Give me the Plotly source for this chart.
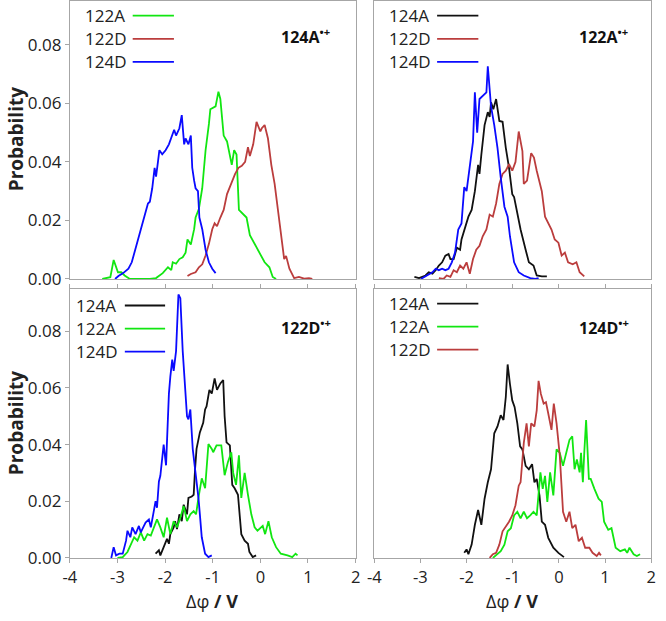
import plotly.graph_objects as go

# ---------------- data ----------------
# Panel "124A•+" (top-left)
tl_122A_x = [-3.32,-3.25,-3.15,-3.08,-2.99,-2.92,-2.85,-2.74,-2.32,-2.19,-2.05,-1.94,-1.87,-1.84,-1.77,-1.70,-1.63,-1.57,-1.53,-1.46,-1.39,-1.36,-1.29,-1.22,-1.15,-1.08,-1.05,-0.94,-0.88,-0.84,-0.77,-0.70,-0.63,-0.60,-0.55,-0.50,-0.45,-0.39,-0.29,-0.22,-0.12,0.00,0.09,0.19,0.26,0.33]
tl_122A_y = [0,0.0003,0.0006,0.0065,0.0023,0.0023,0.0012,0,0,0.0003,0.002,0.004,0.003,0.0057,0.0052,0.0068,0.0074,0.009,0.0135,0.0118,0.017,0.021,0.024,0.031,0.044,0.053,0.058,0.059,0.064,0.0615,0.049,0.047,0.041,0.039,0.044,0.0425,0.0236,0.0225,0.021,0.015,0.012,0.0085,0.0057,0.004,0.0007,0]
tl_122D_x = [-1.53,-1.46,-1.36,-1.29,-1.22,-1.15,-1.08,-1.01,-0.96,-0.91,-0.84,-0.77,-0.70,-0.63,-0.53,-0.46,-0.39,-0.32,-0.26,-0.22,-0.15,-0.08,0.00,0.03,0.09,0.16,0.23,0.30,0.37,0.43,0.50,0.54,0.61,0.71,0.81,0.92,1.02,1.09]
tl_122D_y = [0.001,0.0017,0.0023,0.004,0.005,0.008,0.012,0.017,0.019,0.018,0.021,0.0236,0.029,0.032,0.0359,0.038,0.0387,0.040,0.045,0.042,0.046,0.0537,0.0504,0.0515,0.0526,0.048,0.039,0.0325,0.0236,0.0169,0.0068,0.0079,0.0035,0.0003,0.0007,0.0001,0.0003,0]
tl_124D_x = [-3.05,-2.98,-2.88,-2.77,-2.70,-2.63,-2.57,-2.50,-2.43,-2.36,-2.32,-2.27,-2.22,-2.19,-2.15,-2.12,-2.06,-1.99,-1.92,-1.86,-1.81,-1.77,-1.70,-1.65,-1.60,-1.57,-1.51,-1.46,-1.43,-1.39,-1.36,-1.31,-1.28,-1.22,-1.15,-1.08,-1.01,-0.94]
tl_124D_y = [0,0.001,0.002,0.0035,0.0057,0.010,0.0135,0.018,0.0213,0.0258,0.0264,0.031,0.038,0.035,0.040,0.044,0.0426,0.044,0.046,0.049,0.051,0.049,0.0515,0.056,0.046,0.048,0.046,0.049,0.038,0.0336,0.031,0.030,0.021,0.017,0.010,0.0057,0.0035,0.002]

# Panel "122A•+" (top-right)
tr_124A_x = [-3.13,-3.03,-2.89,-2.82,-2.74,-2.67,-2.60,-2.53,-2.46,-2.39,-2.35,-2.28,-2.21,-2.14,-2.11,-2.04,-1.96,-1.89,-1.82,-1.75,-1.72,-1.68,-1.65,-1.61,-1.54,-1.50,-1.47,-1.42,-1.36,-1.33,-1.29,-1.22,-1.15,-1.08,-1.01,-0.97,-0.90,-0.83,-0.72,-0.65,-0.55,-0.48,-0.37,-0.26]
tr_124A_y = [0.0007,0.0003,0.0012,0.0023,0.0018,0.003,0.0046,0.0057,0.008,0.0085,0.0068,0.0068,0.0107,0.010,0.0135,0.0169,0.0213,0.0236,0.030,0.039,0.0359,0.0425,0.046,0.0526,0.057,0.0554,0.0604,0.058,0.0615,0.058,0.054,0.0537,0.0448,0.038,0.029,0.028,0.0225,0.0169,0.010,0.0057,0.0046,0.0012,0.0009,0.0009]
tr_122D_x = [-2.60,-2.50,-2.43,-2.35,-2.28,-2.21,-2.14,-2.07,-2.00,-1.93,-1.86,-1.79,-1.72,-1.65,-1.57,-1.50,-1.43,-1.36,-1.29,-1.22,-1.15,-1.08,-1.01,-0.94,-0.87,-0.79,-0.76,-0.69,-0.60,-0.54,-0.48,-0.37,-0.30,-0.23,-0.16,-0.09,-0.01,0.06,0.13,0.20,0.30,0.38,0.45,0.55]
tr_122D_y = [0.0003,0,0.0012,0.0007,0.003,0.0023,0.0046,0.0035,0.0057,0.0018,0.0068,0.010,0.0113,0.0146,0.0169,0.022,0.0213,0.0258,0.0325,0.0359,0.037,0.0392,0.037,0.040,0.0504,0.0437,0.0325,0.0336,0.043,0.0415,0.037,0.030,0.0213,0.019,0.0169,0.0135,0.0124,0.008,0.009,0.0057,0.005,0.0057,0.0023,0.0009]
tr_124D_x = [-2.99,-2.85,-2.74,-2.67,-2.60,-2.53,-2.46,-2.39,-2.32,-2.25,-2.18,-2.11,-2.05,-2.00,-1.93,-1.86,-1.82,-1.77,-1.72,-1.65,-1.57,-1.54,-1.50,-1.47,-1.40,-1.33,-1.26,-1.18,-1.11,-1.06,-0.97,-0.87,-0.76,-0.62,-0.51,-0.44]
tr_124D_y = [0,0.0012,0.0023,0.0035,0.003,0.0035,0.003,0.0035,0.0057,0.009,0.0169,0.019,0.0314,0.030,0.039,0.047,0.0638,0.050,0.0615,0.0627,0.0638,0.0727,0.065,0.059,0.0526,0.0448,0.0347,0.0247,0.0213,0.0146,0.0057,0.0023,0.0012,0.0003,0,0.0003]

# Panel "122D•+" (bottom-left)
bl_124A_x = [-2.20,-2.13,-2.10,-2.03,-1.96,-1.92,-1.89,-1.82,-1.79,-1.75,-1.70,-1.65,-1.61,-1.54,-1.51,-1.44,-1.40,-1.37,-1.34,-1.27,-1.20,-1.16,-1.13,-1.07,-1.02,-0.96,-0.91,-0.84,-0.78,-0.75,-0.71,-0.64,-0.59,-0.54,-0.47,-0.40,-0.33,-0.26,-0.23,-0.16,-0.09]
bl_124A_y = [0.0015,0.0027,0.0009,0.0038,0.0067,0.005,0.0084,0.0108,0.013,0.0102,0.0154,0.013,0.0188,0.0154,0.0212,0.0217,0.0223,0.0316,0.0385,0.0443,0.0477,0.0524,0.0535,0.0593,0.058,0.0634,0.0593,0.0616,0.0628,0.050,0.0408,0.0397,0.0258,0.0246,0.0223,0.0084,0.0061,0.005,0.0021,0.0003,0.0009]
bl_122A_x = [-3.00,-2.89,-2.79,-2.72,-2.65,-2.58,-2.51,-2.44,-2.37,-2.30,-2.24,-2.17,-2.10,-2.03,-1.96,-1.89,-1.82,-1.75,-1.68,-1.61,-1.54,-1.47,-1.40,-1.35,-1.30,-1.23,-1.16,-1.09,-1.02,-0.99,-0.92,-0.82,-0.75,-0.68,-0.61,-0.57,-0.51,-0.45,-0.40,-0.33,-0.26,-0.19,-0.12,-0.06,0.05,0.10,0.17,0.24,0.33,0.43,0.57,0.67,0.74,0.78]
bl_122A_y = [0,0.0003,0.0021,0.005,0.0073,0.0061,0.009,0.0061,0.0084,0.0079,0.0108,0.0136,0.0108,0.0073,0.0142,0.0084,0.013,0.0108,0.0142,0.0183,0.013,0.0154,0.0165,0.0154,0.0212,0.0281,0.0246,0.0402,0.0385,0.0373,0.0397,0.0397,0.0292,0.0339,0.0373,0.030,0.0258,0.0362,0.0212,0.030,0.0223,0.0154,0.0108,0.0096,0.0113,0.0084,0.013,0.0073,0.0038,0.0015,0.0009,0.0003,0.0015,0.0009]
bl_124D_x = [-3.13,-3.08,-3.03,-2.96,-2.89,-2.82,-2.79,-2.73,-2.69,-2.62,-2.55,-2.51,-2.46,-2.41,-2.34,-2.30,-2.25,-2.20,-2.17,-2.13,-2.10,-2.03,-1.98,-1.92,-1.89,-1.85,-1.82,-1.77,-1.72,-1.68,-1.63,-1.58,-1.54,-1.51,-1.47,-1.42,-1.37,-1.30,-1.27,-1.23,-1.16,-1.09,-1.02]
bl_124D_y = [0,0.0038,0.0009,0.0015,0.0015,0.0061,0.0096,0.0073,0.0108,0.0084,0.0113,0.009,0.0108,0.0125,0.0136,0.0108,0.0154,0.020,0.0177,0.027,0.029,0.040,0.0327,0.058,0.064,0.070,0.066,0.073,0.093,0.0917,0.073,0.0616,0.050,0.0489,0.0524,0.0385,0.0316,0.0212,0.0154,0.0073,0.0015,0.0003,0.0009]

# Panel "124D•+" (bottom-right)
br_124A_x = [-2.05,-2.00,-1.96,-1.89,-1.82,-1.75,-1.68,-1.61,-1.54,-1.47,-1.40,-1.33,-1.26,-1.20,-1.15,-1.11,-1.06,-1.01,-0.96,-0.90,-0.84,-0.79,-0.72,-0.65,-0.58,-0.53,-0.48,-0.42,-0.37,-0.30,-0.23,-0.12,-0.01,0.11]
br_124A_y = [0.0018,0.003,0.0013,0.0047,0.0117,0.0169,0.0117,0.0209,0.0267,0.0313,0.044,0.0464,0.0504,0.0487,0.0568,0.0683,0.0614,0.0556,0.0533,0.0475,0.0394,0.0383,0.0325,0.0313,0.0331,0.0267,0.0279,0.0221,0.0128,0.0117,0.0071,0.0036,0.0018,0.0003]
br_122A_x = [-1.43,-1.33,-1.26,-1.18,-1.11,-1.04,-0.97,-0.90,-0.83,-0.76,-0.69,-0.62,-0.55,-0.48,-0.40,-0.35,-0.30,-0.25,-0.19,-0.12,-0.05,0.02,0.09,0.16,0.23,0.29,0.34,0.39,0.45,0.48,0.52,0.55,0.59,0.65,0.69,0.77,0.86,0.93,0.98,1.07,1.14,1.23,1.33,1.43,1.48,1.53,1.62,1.69,1.76]
br_122A_y = [0,0.0013,0.0024,0.0047,0.0094,0.0105,0.015,0.0163,0.014,0.0163,0.014,0.015,0.0163,0.015,0.0302,0.0244,0.029,0.0198,0.0302,0.0221,0.0383,0.0371,0.0325,0.0371,0.0417,0.0429,0.0313,0.0348,0.0302,0.0371,0.0267,0.0371,0.0487,0.0279,0.0279,0.0244,0.0209,0.0198,0.0128,0.0099,0.0105,0.0036,0.0024,0.003,0.0018,0.0036,0.0013,0.0007,0.0013]
br_122D_x = [-1.50,-1.43,-1.36,-1.29,-1.22,-1.15,-1.08,-1.01,-0.94,-0.87,-0.83,-0.76,-0.70,-0.65,-0.60,-0.53,-0.48,-0.44,-0.39,-0.33,-0.28,-0.23,-0.16,-0.11,-0.05,0.02,0.09,0.16,0.23,0.29,0.36,0.43,0.50,0.57,0.66,0.73,0.82,0.87,0.91]
br_122D_y = [0,0.0013,0.0018,0.0047,0.0094,0.011,0.0128,0.015,0.0186,0.0255,0.0267,0.0406,0.0475,0.0394,0.0475,0.0464,0.0521,0.0625,0.0579,0.0545,0.055,0.051,0.0452,0.0545,0.0475,0.036,0.0163,0.0128,0.0163,0.0105,0.0117,0.0059,0.0071,0.0036,0.0036,0.0018,0.0007,0.0018,0.0009]

panel_titles = ["124A", "122A", "122D", "124D"]
x_ticks = [-4, -3, -2, -1, 0, 1, 2]
x_ticklabels = ["-4", "-3", "-2", "-1", "0", "1", "2"]
y_ticks = [0, 0.02, 0.04, 0.06, 0.08]
y_ticklabels = ["0.00", "0.02", "0.04", "0.06", "0.08"]

# ---------------- style ----------------
W, H = 666, 621
GREEN, RED, BLUE, BLACK = "#11e611", "#bb3d3d", "#0a0aff", "#111111"
FRAME = "#a6a6a6"
FONT = "Open Sans"
LW = 1.8

def px(x):
    return x / W

def py(y):
    return 1 - y / H

# panel pixel boxes (left, right, top, bottom)
boxes = {
    1: (64, 355, 1, 284),
    2: (374, 656, 1, 284),
    3: (64, 355, 294, 568),
    4: (374, 656, 294, 568),
}

panels = {
    1: [("122A", tl_122A_x, tl_122A_y, GREEN), ("122D", tl_122D_x, tl_122D_y, RED), ("124D", tl_124D_x, tl_124D_y, BLUE)],
    2: [("124A", tr_124A_x, tr_124A_y, BLACK), ("122D", tr_122D_x, tr_122D_y, RED), ("124D", tr_124D_x, tr_124D_y, BLUE)],
    3: [("124A", bl_124A_x, bl_124A_y, BLACK), ("122A", bl_122A_x, bl_122A_y, GREEN), ("124D", bl_124D_x, bl_124D_y, BLUE)],
    4: [("124A", br_124A_x, br_124A_y, BLACK), ("122A", br_122A_x, br_122A_y, GREEN), ("122D", br_122D_x, br_122D_y, RED)],
}

fig = go.Figure()
annotations = []
shapes = []

for k in (1, 2, 3, 4):
    sfx = "" if k == 1 else str(k)
    for name, xs, ys, col in panels[k]:
        fig.add_trace(go.Scatter(x=xs, y=ys, mode="lines", name=name,
                                 line=dict(color=col, width=LW),
                                 xaxis="x" + sfx, yaxis="y" + sfx, showlegend=False))
    l, r, t, b = boxes[k]
    bottom_row = k in (3, 4)
    left_col = k in (1, 3)
    fig.layout["xaxis" + sfx] = dict(
        domain=[px(l), px(r)], anchor="y" + sfx, range=[-4, 2],
        showline=True, linecolor=FRAME, linewidth=1, mirror="allticks" if bottom_row else True,
        showgrid=False, zeroline=False,
        tickvals=x_ticks, ticktext=x_ticklabels,
        showticklabels=bottom_row, ticks="outside" if bottom_row else "",
        ticklen=4, tickcolor=FRAME,
        tickfont=dict(family=FONT, size=16.5, color="#222"),
    )
    fig.layout["yaxis" + sfx] = dict(
        domain=[py(b), py(t)], anchor="x" + sfx, range=[0, 0.095],
        showline=True, linecolor=FRAME, linewidth=1, mirror=True,
        showgrid=False, zeroline=False,
        tickvals=y_ticks, ticktext=y_ticklabels,
        showticklabels=left_col, ticks="outside" if left_col else "",
        ticklen=4, tickcolor=FRAME,
        tickfont=dict(family=FONT, size=17, color="#222"),
    )

    # legend (text then line sample)
    if k == 1:
        lx, ly0, s0, s1 = 77, 16, 128, 170
    elif k == 2:
        lx, ly0, s0, s1 = 387, 16, 438, 480
    elif k == 3:
        lx, ly0, s0, s1 = 68, 311, 120, 161
    else:
        lx, ly0, s0, s1 = 387, 309, 438, 480
    for i, (name, xs, ys, col) in enumerate(panels[k]):
        yy = ly0 + i * 23.5
        annotations.append(dict(text=name, x=px(lx), y=py(yy), xref="paper", yref="paper",
                                xanchor="left", yanchor="middle", showarrow=False,
                                font=dict(family=FONT, size=17, color="#222")))
        shapes.append(dict(type="line", xref="paper", yref="paper",
                           x0=px(s0), x1=px(s1), y0=py(yy), y1=py(yy),
                           line=dict(color=col, width=LW)))
    # panel title
    tx = 277 if left_col else 580
    ty = 37 if k in (1, 2) else 333
    annotations.append(dict(text="<b>" + panel_titles[k - 1] + "<sup>•+</sup></b>",
                            x=px(tx), y=py(ty), xref="paper", yref="paper",
                            xanchor="left", yanchor="middle", showarrow=False,
                            font=dict(family=FONT, size=16, color="#111")))

# axis titles
for yc in (142, 431):
    annotations.append(dict(text="<b>Probability</b>", x=px(10), y=py(yc), xref="paper", yref="paper",
                            xanchor="center", yanchor="middle", showarrow=False, textangle=-90,
                            font=dict(family=FONT, size=19, color="#222")))
for xc in (209, 514):
    annotations.append(dict(text="Δφ <b>/ V</b>", x=px(xc), y=0, xref="paper", yref="paper",
                            xanchor="center", yanchor="bottom", yshift=-5, showarrow=False,
                            font=dict(family=FONT, size=18, color="#222")))

fig.update_layout(
    width=W, height=H, margin=dict(l=0, r=0, t=0, b=0),
    paper_bgcolor="white", plot_bgcolor="white",
    annotations=annotations, shapes=shapes, showlegend=False,
)

fig.write_html("out.html")
